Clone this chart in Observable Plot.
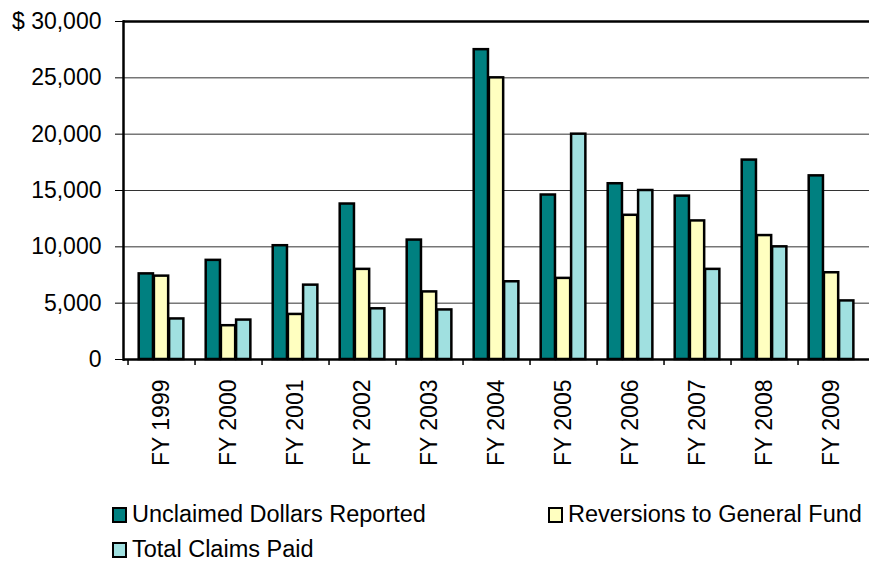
<!DOCTYPE html>
<html>
<head>
<meta charset="utf-8">
<script src="https://cdn.jsdelivr.net/npm/d3@7"></script>
<script src="https://cdn.jsdelivr.net/npm/@observablehq/plot@0.6"></script>
<style>
  html, body { margin: 0; padding: 0; background: #fff; }
  body { width: 869px; height: 562px; overflow: hidden; font-family: "Liberation Sans", Arial, sans-serif; }
  #chart svg { display: block; }
  #legend { position: relative; height: 72px; font-size: 23.5px; color: #000; }
  .item { position: absolute; display: flex; align-items: center; white-space: nowrap; }
  .sw { width: 11px; height: 12px; border: 2px solid #000; margin-right: 5px; box-sizing: content-box; }
</style>
</head>
<body>
<div id="chart"></div>
<div id="legend"></div>
<script>
const years = ["FY 1999","FY 2000","FY 2001","FY 2002","FY 2003","FY 2004","FY 2005","FY 2006","FY 2007","FY 2008","FY 2009"];
const unclaimed  = [7600, 8800, 10100, 13800, 10600, 27500, 14600, 15600, 14500, 17700, 16300];
const reversions = [7400, 3000, 4000, 8000, 6000, 25000, 7200, 12800, 12300, 11000, 7700];
const claims     = [3600, 3500, 6600, 4500, 4400, 6900, 20000, 15000, 8000, 10000, 5200];
const seriesNames = ["Unclaimed Dollars Reported", "Reversions to General Fund", "Total Claims Paid"];
const seriesColors = ["#008080", "#FFFFC0", "#A0E0E0"];
const yTicks = [0, 5000, 10000, 15000, 20000, 25000, 30000];

const seriesValues = [unclaimed, reversions, claims];

const W = 869, H = 490;
const mT = 21, mB = 131;
const xRange = [123.3, 870.6];
const band = (xRange[1] - xRange[0]) / years.length;
const groupW = 45.6;
const barW = groupW / 3;
const off = 10.7;

const fmt = d3.format(",");
const barMarks = seriesValues.map((vals, i) => {
  const data = years.map((y, j) => ({year: y, value: vals[j]}));
  const left = off + barW * i;
  return Plot.barY(data, {
    x: "year", y: "value",
    fill: seriesColors[i], stroke: "#000", strokeWidth: 2.5,
    insetLeft: left, insetRight: band - left - barW
  });
});

const chart = Plot.plot({
  width: W, height: H,
  marginLeft: 123, marginRight: 0, marginTop: mT, marginBottom: mB,
  style: {fontFamily: "'Liberation Sans', Arial, sans-serif", fontSize: "23px", color: "#000", background: "#fff", overflow: "visible"},
  x: {type: "band", domain: years, padding: 0, range: xRange},
  y: {domain: [0, 30000]},
  marks: [
    Plot.gridY(yTicks, {stroke: "#333", strokeOpacity: 1, strokeWidth: 1}),
    Plot.ruleY([30000], {stroke: "#000", strokeWidth: 2.5}),
    ...barMarks,
    Plot.ruleY([0], {stroke: "#000", strokeWidth: 2.5}),
    Plot.frame({anchor: "left", stroke: "#000", strokeWidth: 2.5}),
    Plot.axisY(yTicks, {tickSize: 8, tickPadding: 14, label: null,
      tickFormat: d => d === 30000 ? "$ " + fmt(d) : fmt(d), fontSize: 23}),
    Plot.axisX({tickSize: 6, tickFormat: null, dx: -band / 2, label: null, strokeWidth: 1.5}),
    Plot.axisX({tickSize: 0, tickPadding: 20, tickRotate: -90, label: null, fontSize: 23})
  ]
});
document.getElementById("chart").appendChild(chart);

const legend = document.getElementById("legend");
const pos = [[112, 11], [548, 11], [112, 46]];
seriesNames.forEach((name, i) => {
  const it = document.createElement("div");
  it.className = "item";
  it.style.left = pos[i][0] + "px";
  it.style.top = pos[i][1] + "px";
  const sw = document.createElement("span");
  sw.className = "sw";
  sw.style.background = seriesColors[i];
  const tx = document.createElement("span");
  tx.textContent = name;
  it.appendChild(sw); it.appendChild(tx);
  legend.appendChild(it);
});
</script>
</body>
</html>
